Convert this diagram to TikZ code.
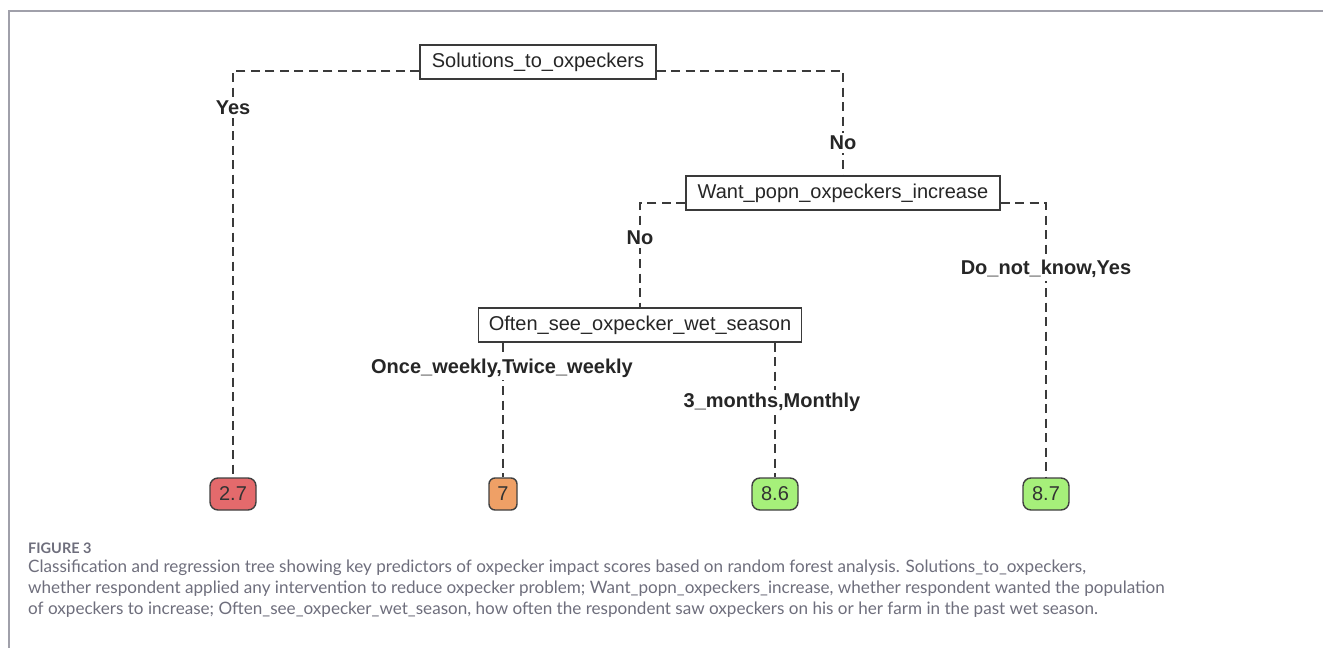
\documentclass[tikz,border=0pt]{standalone}
\usepackage{fontspec}
\setmainfont{Liberation Sans}
\newfontfamily\capfont{Lato}
\definecolor{framegray}{HTML}{A0A0AA}
\definecolor{capgray}{HTML}{6E6E7C}
\definecolor{linegray}{HTML}{3A3A3A}
\definecolor{leafred}{HTML}{E46A6C}
\definecolor{leaforange}{HTML}{EFA066}
\definecolor{leafgreen}{HTML}{A6F07A}
\tikzset{
  splitbox/.style={draw=linegray, line width=1.4pt, fill=white, minimum height=34pt, inner sep=0pt,
    font=\fontsize{20}{22}\selectfont, text=black!85},
  leaf/.style={draw=black!75, line width=1.4pt, rounded corners=8pt, minimum height=32pt, inner sep=0pt,
    font=\fontsize{20}{22}\selectfont, text=black!80},
  edge/.style={draw=linegray, line width=2.2pt, dash pattern=on 9pt off 5.5pt},
  elabel/.style={fill=white, inner sep=3pt, font=\bfseries\fontsize{20}{22}\selectfont, text=black!85},
  caption/.style={anchor=west, inner sep=0pt, text=capgray, font=\capfont\fontsize{17.1}{19}\selectfont}
}
\begin{document}
\begin{tikzpicture}[x=1pt,y=-1pt]
\useasboundingbox (0,0) rectangle (1323,648);
\draw[framegray, line width=1.5pt] (9,648) -- (9,11) -- (1323,11);

% split nodes
\node[splitbox, minimum width=236pt] (root) at (538,62) {Solutions\_to\_oxpeckers};
\node[splitbox, minimum width=314pt] (want) at (843,193) {Want\_popn\_oxpeckers\_increase};
\node[splitbox, minimum width=323pt] (often) at (640,325) {Often\_see\_oxpecker\_wet\_season};

% leaves
\node[leaf, fill=leafred, minimum width=46pt] (l1) at (233,494) {2.7};
\node[leaf, fill=leaforange, minimum width=28pt, rounded corners=6pt] (l2) at (503,494) {7};
\node[leaf, fill=leafgreen, minimum width=46pt] (l3) at (775,494) {8.6};
\node[leaf, fill=leafgreen, minimum width=46pt] (l4) at (1046,494) {8.7};

% connectors
\draw[edge] ([yshift=-9pt]root.west) -| (l1.north);
\draw[edge] ([yshift=-9pt]root.east) -| (want.north);
\draw[edge] ([yshift=-10pt]want.west) -| (often.north);
\draw[edge] ([yshift=-10pt]want.east) -| (l4.north);
\draw[edge] (often.south -| l2.north) -- (l2.north);
\draw[edge] (often.south -| l3.north) -- (l3.north);

% edge labels
\node[elabel] (yes1) at (233,108) {Yes};
\node[elabel] (no1) at (843,143) {No};
\node[elabel] (no2) at (640,238) {No};
\node[elabel] (dk) at (1046,269) {Do\_not\_know,Yes};
\node[elabel] (ow) at (502,368) {Once\_weekly,Twice\_weekly};
\node[elabel] (mo) at (772,402) {3\_months,Monthly};

% caption
\node[anchor=west, inner sep=0pt, text=capgray, font=\capfont\bfseries\fontsize{14.5}{16}\selectfont] (fig) at (28,548) {FIGURE 3};
\node[caption] (c1) at (28,568) {Classification and regression tree showing key predictors of oxpecker impact scores based on random forest analysis. Solutions\_to\_oxpeckers,};
\node[caption] (c2) at (28,589) {whether respondent applied any intervention to reduce oxpecker problem; Want\_popn\_oxpeckers\_increase, whether respondent wanted the population};
\node[caption] (c3) at (28,610) {of oxpeckers to increase; Often\_see\_oxpecker\_wet\_season, how often the respondent saw oxpeckers on his or her farm in the past wet season.};
\end{tikzpicture}
\end{document}
